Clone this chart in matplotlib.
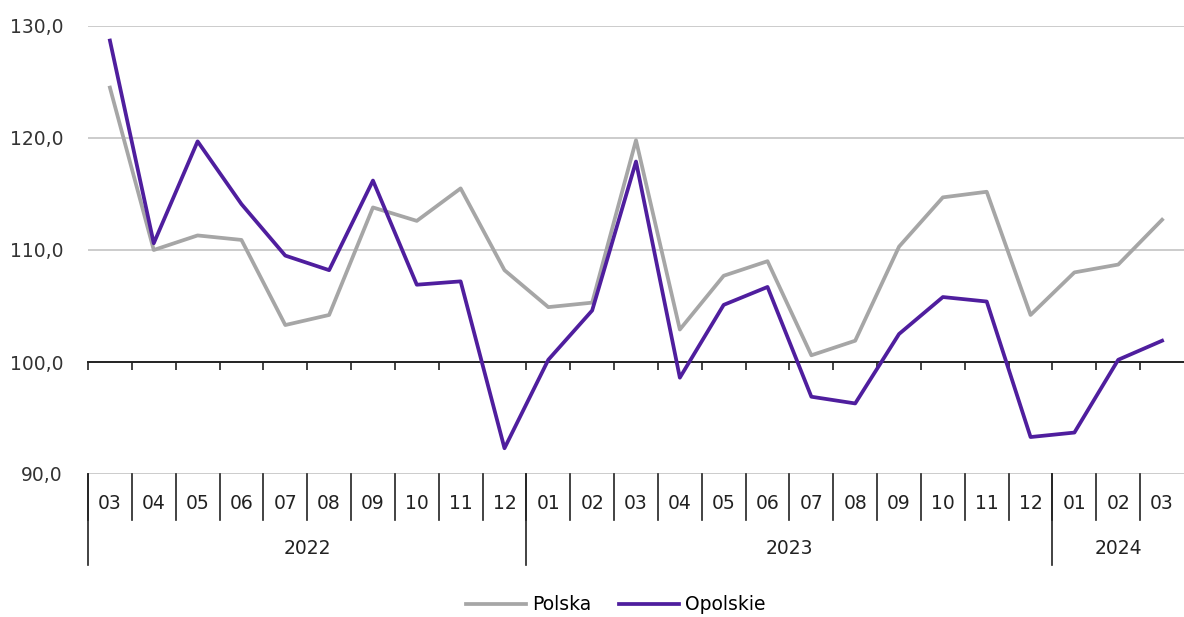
import numpy as np
import matplotlib
matplotlib.use('Agg')
import matplotlib.pyplot as plt
from matplotlib.transforms import blended_transform_factory

plt.rcParams['font.family'] = ['Liberation Sans Narrow', 'DejaVu Sans']

######------------------ data
MONTHS = ['03', '04', '05', '06', '07', '08', '09', '10', '11', '12',
          '01', '02', '03', '04', '05', '06', '07', '08', '09', '10', '11', '12',
          '01', '02', '03']
YEARS = ['2022', '2023', '2024']
YEAR_SPANS = [(0, 10), (10, 22), (22, 25)]

POLSKA = [124.5, 110.0, 111.3, 110.9, 103.3, 104.2, 113.8, 112.6, 115.5, 108.2,
          104.9, 105.3, 119.8, 102.9, 107.7, 109.0, 100.6, 101.9, 110.3, 114.7,
          115.2, 104.2, 108.0, 108.7, 112.7]
OPOLSKIE = [128.7, 110.6, 119.7, 114.1, 109.5, 108.2, 116.2, 106.9, 107.2, 92.3,
            100.2, 104.6, 117.9, 98.6, 105.1, 106.7, 96.9, 96.3, 102.5, 105.8,
            105.4, 93.3, 93.7, 100.2, 101.9]

YTICKS = [90, 100, 110, 120, 130]

######------------------ figure settings
GRAY = '#A6A6A6'
PURPLE = '#4F1E9E'
GRID = '#C4C4C4'
FONTSIZE = 13.5
LINEWIDTH = 2.7

fig = plt.figure(figsize=(11.84, 6.17), dpi=100)
ax = fig.add_axes([88/1184, 1-474/617, 1096/1184, 448/617])

x = np.arange(len(MONTHS))
ax.plot(x, POLSKA, color=GRAY, linewidth=LINEWIDTH, label='Polska', zorder=3)
ax.plot(x, OPOLSKIE, color=PURPLE, linewidth=LINEWIDTH, label='Opolskie', zorder=4)

ax.set_xlim(-0.5, len(MONTHS)-0.5)
ax.set_ylim(90, 130)

# gridlines
for yv in YTICKS:
    if yv != 100:
        ax.axhline(yv, color=GRID, linewidth=1.2, zorder=1)

# axis line at 100 with tick marks between categories
ax.spines[['top', 'right', 'left']].set_visible(False)
ax.spines['bottom'].set_position(('data', 100))
ax.spines['bottom'].set_color('#222222')
ax.spines['bottom'].set_linewidth(1.4)
ax.spines['bottom'].set_zorder(2)
ax.set_xticks(np.arange(len(MONTHS)) - 0.5)
ax.set_xticklabels([])
ax.tick_params(axis='x', direction='out', length=6, width=1.2, color='#222222')

ax.set_yticks(YTICKS)
ax.set_yticklabels([f'{v:.1f}'.replace('.', ',') for v in YTICKS], fontsize=FONTSIZE, color='#333333')
ax.tick_params(axis='y', length=0, pad=18)

# category axis below the plot
trans = blended_transform_factory(ax.transData, ax.transAxes)
for i, m in enumerate(MONTHS):
    ax.text(i, -0.066, m, transform=trans, ha='center', va='center',
            fontsize=FONTSIZE, color='#222222')
for i in range(len(MONTHS)):
    ax.plot([i-0.5, i-0.5], [0, -0.103], transform=trans, color='#222222',
            linewidth=1.2, clip_on=False)
for (s, e), yr in zip(YEAR_SPANS, YEARS):
    ax.plot([s-0.5, s-0.5], [0, -0.203], transform=trans, color='#222222',
            linewidth=1.2, clip_on=False)
    ax.text((s+e-1)/2, -0.167, yr, transform=trans, ha='center', va='center',
            fontsize=FONTSIZE, color='#222222')

fig.legend(loc='center', bbox_to_anchor=(616/1184, 1-605/617), ncol=2, frameon=False,
           fontsize=FONTSIZE, handlelength=3.2, handletextpad=0.3, columnspacing=1.5)

fig.savefig('out.png', dpi=100)
